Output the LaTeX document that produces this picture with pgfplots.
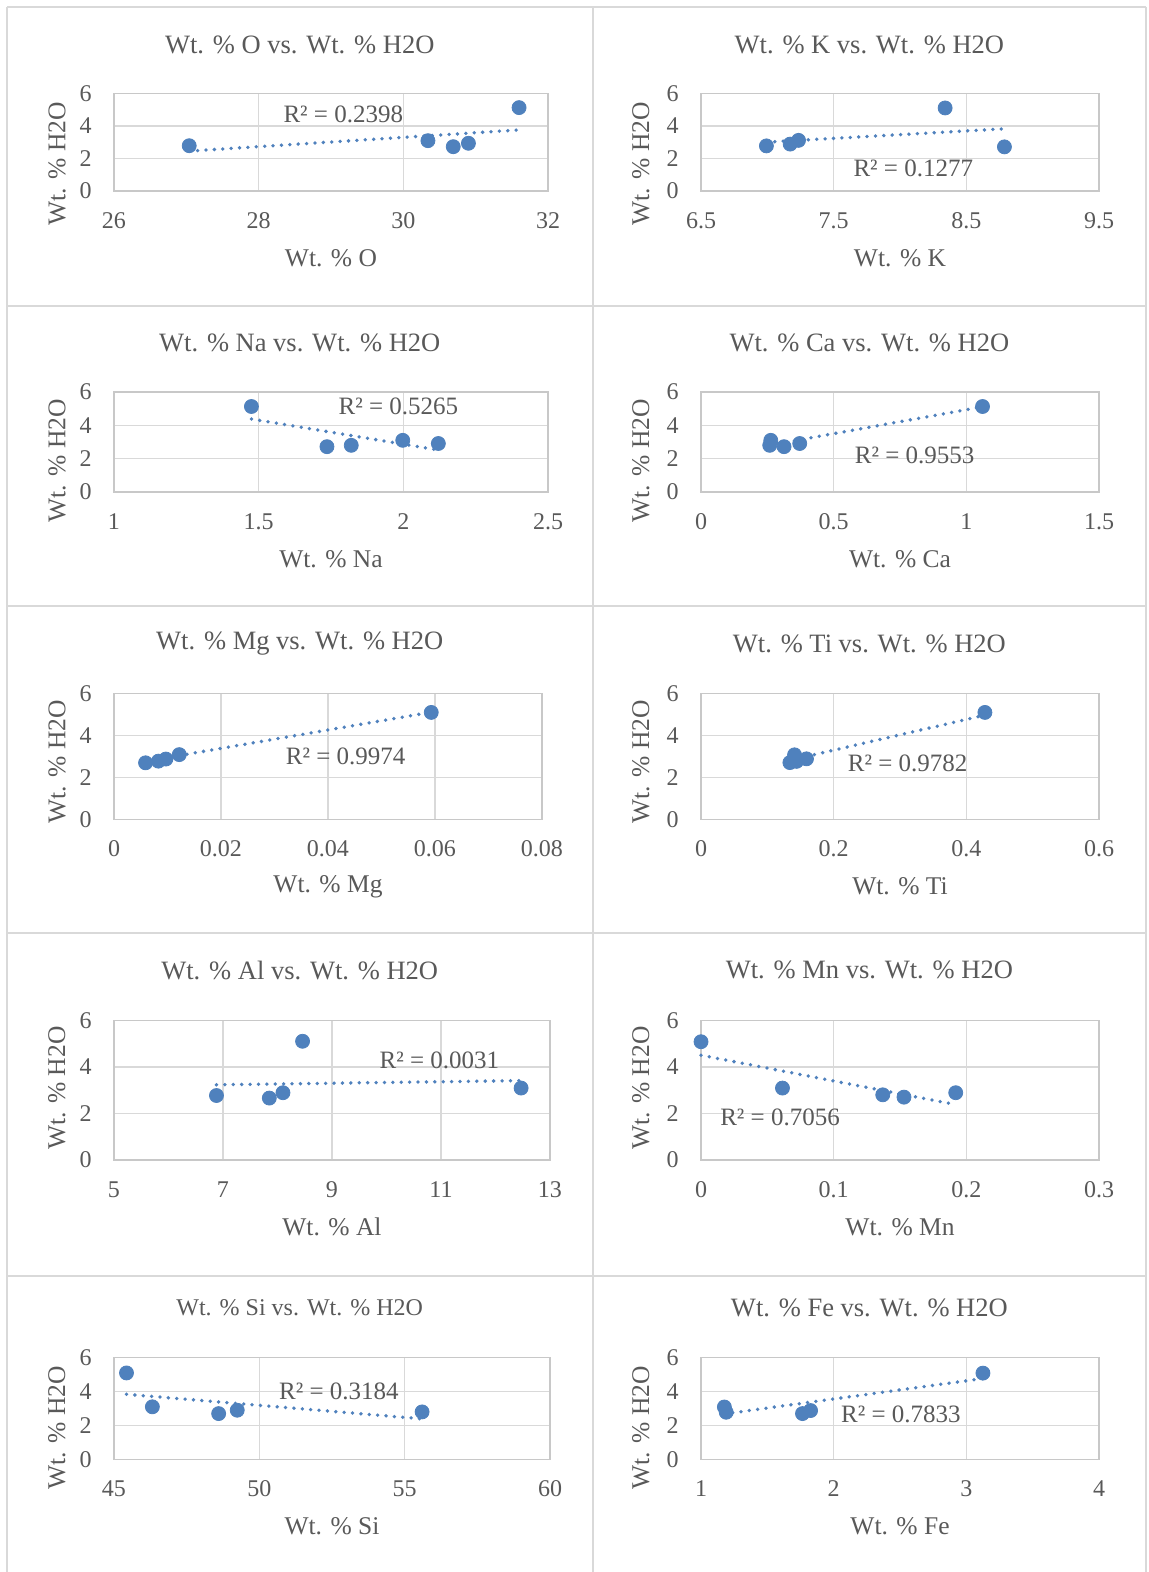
\documentclass[border=0pt]{standalone}
\usepackage{fontspec}
\setmainfont{Liberation Serif}
\usepackage{pgfplots}
\pgfplotsset{compat=1.18}
\definecolor{mblue}{RGB}{79,129,189}
\definecolor{txt}{RGB}{89,89,89}
\definecolor{gridgray}{RGB}{217,217,217}
\definecolor{axisgray}{RGB}{200,200,200}
\newcommand\titsize{\fontsize{13.25pt}{15pt}\selectfont}
\newcommand\sititsize{\fontsize{12pt}{14pt}\selectfont}
\newcommand\labsize{\fontsize{12.75pt}{15pt}\selectfont}
\newcommand\ticksize{\fontsize{12pt}{14pt}\selectfont}
\newcommand\rsize{\fontsize{12.5pt}{14pt}\selectfont}
\pgfplotsset{
  panel/.style={
    scale only axis, anchor=south west, clip=false,
    scaled ticks=false,
    ymin=0, ymax=6, ytick={0,2,4,6}, yticklabels={0,2,4,6},
    axis line style={draw=axisgray, line width=0.75pt},
    grid=major, major grid style={draw=gridgray, line width=0.75pt},
    tick style={draw=none}, major tick length=0pt,
    ticklabel style={font=\ticksize, text=txt},
    xticklabel style={anchor=center, inner sep=0pt, yshift=-14.75pt},
    yticklabel style={anchor=east, inner sep=0pt, xshift=-11pt},
    xlabel style={at={(axis description cs:0.5,0)}, anchor=center, yshift=-33.5pt, font=\labsize, text=txt},
    ylabel={Wt. \% H2O},
    every axis title/.style={font=\titsize, text=txt, anchor=center},
  },
  ylab/.style 2 args={ylabel style={at={(axis description cs:#1,#2)}, anchor=center, font=\labsize, text=txt}},
  tit/.style 2 args={title style={at={(axis description cs:#1,1)}, yshift=#2}},
  mk/.style={only marks, mark=*, mark size=3.5pt, color=mblue, mark options={fill=mblue, draw=mblue}},
  tr/.style={mblue, line width=1.9pt, line cap=round, dash pattern=on 0pt off 4.2pt, no marks},
}
\begin{document}
\begin{tikzpicture}
\useasboundingbox (0,0) rectangle (574pt,-786pt);
\fill[white] (0,0) rectangle (574pt,-786pt);
\begin{scope}[draw=gridgray, line width=1pt]
\draw (3.5pt,-3.5pt) -- (573pt,-3.5pt);
\draw (3.5pt,-153pt) -- (573pt,-153pt);
\draw (3.5pt,-303pt) -- (573pt,-303pt);
\draw (3.5pt,-466.5pt) -- (573pt,-466.5pt);
\draw (3.5pt,-637.75pt) -- (573pt,-637.75pt);
\draw (3.5pt,-3.5pt) -- (3.5pt,-786pt);
\draw (296.25pt,-3.5pt) -- (296.25pt,-786pt);
\draw (573pt,-3.5pt) -- (573pt,-786pt);
\end{scope}

% Row 1 left: O
\begin{axis}[panel, at={(57pt,-95.5pt)}, width=217pt, height=48.85pt,
  xmin=26, xmax=32, xtick={26,28,30,32}, xticklabels={26,28,30,32},
  xlabel={Wt. \% O}, title={Wt. \% O vs. Wt. \% H2O}, tit={0.428}{24.15pt}, ylab={-0.131}{0.276}]
\addplot[mk] coordinates {(27.04,2.78) (30.34,3.09) (30.69,2.72) (30.9,2.93) (31.6,5.12)};
\addplot[tr] coordinates {(27.04,2.45) (31.6,3.75)};
\node[font=\rsize, text=txt] at (axis cs:29.17,4.71) {R² = 0.2398};
\end{axis}

% Row 1 right: K
\begin{axis}[panel, at={(350.5pt,-95.5pt)}, width=199pt, height=48.85pt,
  xmin=6.5, xmax=9.5, xtick={6.5,7.5,8.5,9.5}, xticklabels={6.5,7.5,8.5,9.5},
  xlabel={Wt. \% K}, title={Wt. \% K vs. Wt. \% H2O}, tit={0.423}{24.15pt}, ylab={-0.151}{0.276}]
\addplot[mk] coordinates {(6.993,2.77) (7.172,2.88) (7.235,3.11) (8.34,5.1) (8.787,2.71)};
\addplot[tr] coordinates {(6.993,3.0) (8.787,3.82)};
\node[font=\rsize, text=txt] at (axis cs:8.1,1.4) {R² = 0.1277};
\end{axis}

% Row 2 left: Na
\begin{axis}[panel, at={(57pt,-246pt)}, width=217pt, height=50pt,
  xmin=1, xmax=2.5, xtick={1,1.5,2,2.5}, xticklabels={1,1.5,2,2.5},
  xlabel={Wt. \% Na}, title={Wt. \% Na vs. Wt. \% H2O}, tit={0.428}{24.5pt}, ylab={-0.131}{0.31}]
\addplot[mk] coordinates {(1.475,5.13) (1.736,2.72) (1.82,2.8) (1.998,3.1) (2.121,2.91)};
\addplot[tr] coordinates {(1.475,4.38) (2.121,2.52)};
\node[font=\rsize, text=txt] at (axis cs:1.983,5.16) {R² = 0.5265};
\end{axis}

% Row 2 right: Ca
\begin{axis}[panel, at={(350.5pt,-246pt)}, width=199pt, height=50pt,
  xmin=0, xmax=1.5, xtick={0,0.5,1,1.5}, xticklabels={0,0.5,1,1.5},
  xlabel={Wt. \% Ca}, title={Wt. \% Ca vs. Wt. \% H2O}, tit={0.423}{24.5pt}, ylab={-0.151}{0.31}]
\addplot[mk] coordinates {(0.259,2.8) (0.263,3.1) (0.313,2.72) (0.372,2.91) (1.061,5.13)};
\addplot[tr] coordinates {(0.259,2.81) (1.061,5.11)};
\node[font=\rsize, text=txt] at (axis cs:0.805,2.22) {R² = 0.9553};
\end{axis}

% Row 3 left: Mg
\begin{axis}[panel, at={(57pt,-409.65pt)}, width=214pt, height=63pt,
  xmin=0, xmax=0.08, xtick={0,0.02,0.04,0.06,0.08}, xticklabels={0,0.02,0.04,0.06,0.08},
  xlabel={Wt. \% Mg}, title={Wt. \% Mg vs. Wt. \% H2O}, tit={0.434}{24.65pt}, ylab={-0.133}{0.455}]
\addplot[mk] coordinates {(0.0059,2.69) (0.0083,2.77) (0.0097,2.87) (0.0122,3.08) (0.0593,5.09)};
\addplot[tr] coordinates {(0.0059,2.76) (0.0593,5.1)};
\node[font=\rsize, text=txt] at (axis cs:0.0433,2.98) {R² = 0.9974};
\end{axis}

% Row 3 right: Ti
\begin{axis}[panel, at={(350.5pt,-409.65pt)}, width=199pt, height=63pt,
  xmin=0, xmax=0.6, xtick={0,0.2,0.4,0.6}, xticklabels={0,0.2,0.4,0.6},
  xlabel={Wt. \% Ti}, title={Wt. \% Ti vs. Wt. \% H2O}, tit={0.423}{24.65pt}, ylab={-0.151}{0.455}]
\addplot[mk] coordinates {(0.134,2.7) (0.141,3.07) (0.144,2.76) (0.159,2.88) (0.428,5.09)};
\addplot[tr] coordinates {(0.134,2.81) (0.428,4.96)};
\node[font=\rsize, text=txt] at (axis cs:0.3116,2.67) {R² = 0.9782};
\end{axis}

% Row 4 left: Al
\begin{axis}[panel, at={(57pt,-580pt)}, width=218pt, height=69.85pt,
  xmin=5, xmax=13, xtick={5,7,9,11,13}, xticklabels={5,7,9,11,13},
  xlabel={Wt. \% Al}, title={Wt. \% Al vs. Wt. \% H2O}, tit={0.426}{25.15pt}, ylab={-0.131}{0.515}]
\addplot[mk] coordinates {(6.88,2.77) (7.85,2.66) (8.1,2.89) (8.46,5.1) (12.47,3.09)};
\addplot[tr] coordinates {(6.88,3.23) (12.47,3.41)};
\node[font=\rsize, text=txt] at (axis cs:10.97,4.3) {R² = 0.0031};
\end{axis}

% Row 4 right: Mn
\begin{axis}[panel, at={(350.5pt,-580pt)}, width=199pt, height=69.85pt,
  xmin=0, xmax=0.3, xtick={0,0.1,0.2,0.3}, xticklabels={0,0.1,0.2,0.3},
  xlabel={Wt. \% Mn}, title={Wt. \% Mn vs. Wt. \% H2O}, tit={0.423}{25.15pt}, ylab={-0.151}{0.515}]
\addplot[mk] coordinates {(0,5.08) (0.0614,3.09) (0.137,2.8) (0.153,2.7) (0.192,2.89)};
\addplot[tr] coordinates {(0,4.5) (0.192,2.38)};
\node[font=\rsize, text=txt] at (axis cs:0.0596,1.83) {R² = 0.7056};
\end{axis}

% Row 5 left: Si
\begin{axis}[panel, at={(57pt,-729.65pt)}, width=218pt, height=50.8pt,
  xmin=45, xmax=60, xtick={45,50,55,60}, xticklabels={45,50,55,60},
  xlabel={Wt. \% Si}, title={Wt. \% Si vs. Wt. \% H2O}, tit={0.426}{24.85pt}, ylab={-0.131}{0.308},
  title style={font=\sititsize}]
\addplot[mk] coordinates {(45.43,5.1) (46.32,3.1) (48.6,2.7) (49.24,2.9) (55.6,2.8)};
\addplot[tr] coordinates {(45.43,3.84) (55.6,2.39)};
\node[font=\rsize, text=txt] at (axis cs:52.74,3.99) {R² = 0.3184};
\end{axis}

% Row 5 right: Fe
\begin{axis}[panel, at={(350.5pt,-729.65pt)}, width=199pt, height=50.8pt,
  xmin=1, xmax=4, xtick={1,2,3,4}, xticklabels={1,2,3,4},
  xlabel={Wt. \% Fe}, title={Wt. \% Fe vs. Wt. \% H2O}, tit={0.423}{24.85pt}, ylab={-0.151}{0.308}]
\addplot[mk] coordinates {(1.176,3.09) (1.19,2.78) (1.765,2.7) (1.826,2.88) (3.125,5.09)};
\addplot[tr] coordinates {(1.176,2.68) (3.125,4.77)};
\node[font=\rsize, text=txt] at (axis cs:2.507,2.63) {R² = 0.7833};
\end{axis}
\end{tikzpicture}
\end{document}
